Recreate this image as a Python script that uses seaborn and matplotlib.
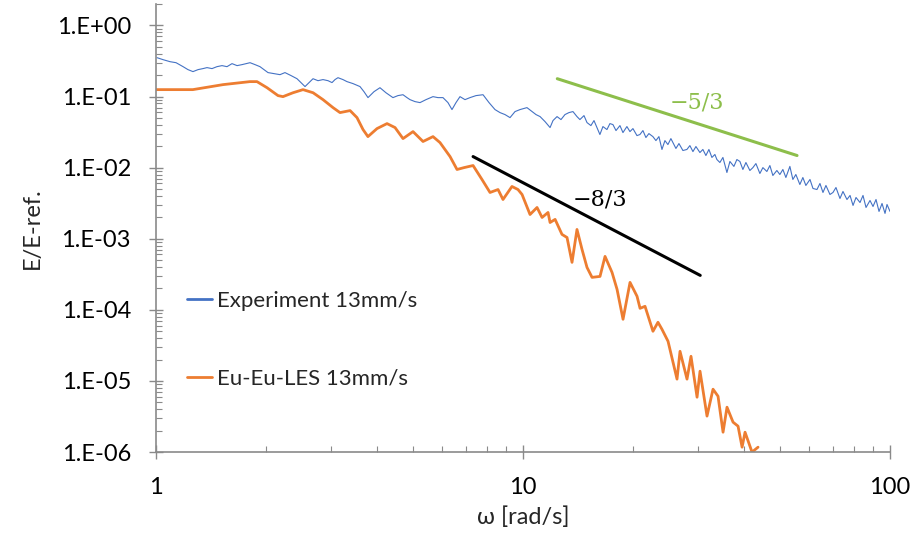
import numpy as np
import matplotlib
matplotlib.use("Agg")
import matplotlib.pyplot as plt
import seaborn as sns
from matplotlib.ticker import LogLocator, FuncFormatter, NullFormatter

# Experiment spectrum
blue_w = [1.006, 1.045, 1.092, 1.134, 1.185, 1.222, 1.261, 1.302, 1.343, 1.377,
          1.421, 1.466, 1.513, 1.561, 1.611, 1.663, 1.716, 1.759, 1.804, 1.861,
          1.920, 1.969, 2.019, 2.097, 2.177, 2.246, 2.333, 2.422, 2.484, 2.547,
          2.612, 2.678, 2.763, 2.851, 2.942, 3.017, 3.074, 3.132, 3.232, 3.314,
          3.441, 3.596, 3.687, 3.781, 3.926, 4.076, 4.232, 4.422, 4.563, 4.709,
          4.829, 4.921, 5.078, 5.240, 5.441, 5.684, 5.865, 6.052, 6.245, 6.404,
          6.567, 6.734, 6.949, 7.171, 7.446, 7.781, 8.079, 8.389, 8.656, 8.932,
          9.217, 9.511, 9.814,
          10.25, 10.58, 10.85, 11.13, 11.48, 11.85, 12.07, 12.38, 12.69, 13.01,
          13.34, 13.68, 14.03, 14.29, 14.66, 14.94, 15.31, 15.61, 15.90, 16.20,
          16.51, 16.93, 17.25, 17.58, 17.92, 18.37, 18.72, 19.19, 19.56, 19.93,
          20.44, 20.82, 21.22, 21.62, 22.03, 22.59, 23.02, 23.46, 23.91, 24.36,
          24.82, 25.29, 25.61, 26.10, 26.60, 27.27, 27.96, 28.49, 29.04, 29.59,
          30.34, 30.91, 31.50, 32.10, 32.71, 33.33, 33.75, 34.39, 35.05, 35.94,
          36.62, 37.55, 38.26, 38.99, 39.73, 40.49, 41.51, 42.30, 43.11, 44.20,
          45.04, 46.18, 47.06, 47.95, 49.17, 50.10, 51.06, 52.03, 53.35, 54.36,
          55.39, 56.80, 57.88, 58.98, 60.52, 61.67, 63.23, 64.43, 65.66, 66.90,
          68.60, 69.91, 71.24, 73.05, 74.44, 76.33, 77.81, 79.29, 80.79, 82.84,
          84.41, 86.02, 88.20, 89.88, 91.59, 93.33, 95.11, 96.91, 98.13, 100.0]
blue_e = [0.352, 0.330, 0.309, 0.299, 0.263, 0.239, 0.224, 0.239, 0.247, 0.255,
          0.247, 0.263, 0.272, 0.263, 0.290, 0.272, 0.281, 0.290, 0.299, 0.281,
          0.263, 0.239, 0.217, 0.210, 0.203, 0.217, 0.197, 0.178, 0.157, 0.138,
          0.157, 0.178, 0.167, 0.173, 0.167, 0.157, 0.173, 0.184, 0.173, 0.162,
          0.152, 0.138, 0.117, 0.0965, 0.117, 0.133, 0.113, 0.0965, 0.103, 0.106,
          0.0965, 0.0904, 0.0848, 0.0821, 0.0904, 0.0996, 0.0965, 0.0965, 0.0821, 0.0655,
          0.0821, 0.0996, 0.0904, 0.0965, 0.103, 0.106, 0.0821, 0.0655, 0.0594, 0.0557,
          0.0505, 0.0614, 0.0655,
          0.0698, 0.0614, 0.0557, 0.0522, 0.0444, 0.0366, 0.0459, 0.0522, 0.0474, 0.0557,
          0.0594, 0.0614, 0.0522, 0.0474, 0.0539, 0.0430, 0.0390, 0.0459, 0.0366, 0.0292,
          0.0378, 0.0343, 0.0416, 0.0403, 0.0332, 0.0390, 0.0311, 0.0378, 0.0321, 0.0354,
          0.0282, 0.0292, 0.0332, 0.0265, 0.0301, 0.0273, 0.0240, 0.0273, 0.0180, 0.0240,
          0.0211, 0.0256, 0.0225, 0.0186, 0.0218, 0.0174, 0.0180, 0.0204, 0.0168, 0.0198,
          0.0163, 0.0180, 0.0148, 0.0180, 0.0139, 0.0153, 0.0130, 0.0118, 0.0139, 0.00854,
          0.0122, 0.0104, 0.0130, 0.0122, 0.00941, 0.0118, 0.00911, 0.0100, 0.0114, 0.00827,
          0.0100, 0.00882, 0.0107, 0.00775, 0.00911, 0.0080, 0.00941, 0.00726, 0.0104, 0.00681,
          0.0080, 0.00579, 0.00726, 0.00561, 0.00681, 0.00509, 0.00492, 0.00598, 0.00447, 0.00561,
          0.00419, 0.00447, 0.00525, 0.00368, 0.00462, 0.00356, 0.00406, 0.00294, 0.0038, 0.00323,
          0.00406, 0.00275, 0.00345, 0.00284, 0.00356, 0.00242, 0.00313, 0.00227, 0.00303, 0.00242]

# Eu-Eu-LES spectrum
les_w = [1.0, 1.127, 1.26, 1.523, 1.803, 1.884, 2.007, 2.15, 2.218, 2.362,
         2.515, 2.679, 2.851, 3.036, 3.172, 3.379, 3.529, 3.665, 3.78, 4.001,
         4.26, 4.48, 4.71, 5.015, 5.34, 5.685, 5.94, 6.327, 6.61, 6.907,
         7.31, 7.73, 8.13, 8.55, 8.82, 9.33, 9.69, 9.94, 10.45, 10.92,
         11.27, 11.7, 11.85, 12.23, 12.77, 13.18, 13.6, 14.03, 14.48, 14.94,
         15.42, 16.21, 16.73, 17.48, 18.04, 18.73, 19.57, 20.45, 20.84, 21.5,
         22.6, 23.32, 23.91, 24.84, 26.28, 26.78, 27.98, 28.69, 29.8, 30.36,
         31.72, 32.94, 33.99, 35.08, 35.96, 37.35, 38.54, 39.53, 40.27, 42.07,
         43.69]
les_e = [0.125, 0.125, 0.125, 0.147, 0.162, 0.162, 0.133, 0.103, 0.0996, 0.113,
         0.125, 0.113, 0.0904, 0.0698, 0.0594, 0.0634, 0.0505, 0.0343, 0.0273, 0.0354,
         0.0416, 0.0366, 0.0256, 0.0321, 0.0233, 0.0273, 0.0225, 0.0143, 0.00941, 0.0100,
         0.0107, 0.00681, 0.00447, 0.00492, 0.00356, 0.00543, 0.00492, 0.00419, 0.00219, 0.00275,
         0.00199, 0.00234, 0.00169, 0.00187, 0.00115, 0.00104, 0.000465, 0.00135, 0.000708, 0.000395,
         0.000286, 0.000295, 0.000564, 0.000336, 0.000194, 7.36e-5, 0.000243, 0.000155, 0.000105, 0.000112,
         4.99e-5, 6.68e-5, 5.33e-5, 3.61e-5, 1.06e-5, 2.61e-5, 1.06e-5, 2.22e-5, 5.9e-6, 1.37e-5,
         3.2e-6, 7.65e-6, 6.09e-6, 1.9e-6, 4.27e-6, 2.63e-6, 2.31e-6, 1.17e-6, 1.9e-6, 9.97e-7,
         1.17e-6]

# slope guide lines (end points)
k53_w = [12.4, 55.8]
k53_e = [0.178, 0.0148]
k83_w = [7.31, 30.4]
k83_e = [0.0143, 0.000305]

sns.set_style("ticks")
plt.rcParams['font.family'] = ['Lato', 'DejaVu Sans']

fig = plt.figure(figsize=(9.15, 5.35), dpi=100)
ax = fig.add_axes([0.1705, 0.1551, 0.8022, 0.8374])

sns.lineplot(x=blue_w, y=blue_e, ax=ax, color="#4472C4", lw=0.8, sort=False,
             estimator=None, label="Experiment 13mm/s")
sns.lineplot(x=les_w, y=les_e, ax=ax, color="#ED7D31", lw=2.0, sort=False,
             estimator=None, label="Eu-Eu-LES 13mm/s")
sns.lineplot(x=k53_w, y=k53_e, ax=ax, color="#8DBE4B", lw=2.2, legend=False)
sns.lineplot(x=k83_w, y=k83_e, ax=ax, color="black", lw=2.2, legend=False)

ax.set(xscale="log", yscale="log")
ax.set_xlim(1, 100)
ax.set_ylim(1e-6, 2.0)

ax.text(29.8, 0.0821, "\u22125/3", color="#8DBE4B", fontsize=16,
        family="DejaVu Serif", ha="center", va="center")
ax.text(16.2, 0.00356, "\u22128/3", color="black", fontsize=16,
        family="DejaVu Serif", ha="center", va="center")

ax.set_yticks([1e-6, 1e-5, 1e-4, 1e-3, 1e-2, 1e-1, 1e0])
ax.yaxis.set_major_formatter(FuncFormatter(lambda v, p: f"1.E{int(round(np.log10(v))):+03d}"))
ax.yaxis.set_minor_locator(LogLocator(base=10, subs=np.arange(2, 10), numticks=20))
ax.yaxis.set_minor_formatter(NullFormatter())
ax.set_xticks([1, 10, 100])
ax.xaxis.set_major_formatter(FuncFormatter(lambda v, p: f"{v:g}"))
ax.xaxis.set_minor_locator(LogLocator(base=10, subs=np.arange(2, 10), numticks=20))
ax.xaxis.set_minor_formatter(NullFormatter())

grey = "#8a8a8a"
ax.tick_params(which="major", direction="inout", length=10, width=1.0,
               color=grey, labelsize=17, labelcolor="black", pad=13)
ax.tick_params(which="minor", direction="in", length=4.5, width=0.8, color=grey)

sns.despine(ax=ax)
for s in ["left", "bottom"]:
    ax.spines[s].set_color(grey)
    ax.spines[s].set_linewidth(1.2)

ax.set_xlabel("\u03c9 [rad/s]", fontsize=17, labelpad=6)
ax.set_ylabel("E/E-ref.", fontsize=17, labelpad=10)

leg = ax.legend(loc="upper left", bbox_to_anchor=(0.042, 0.36), frameon=False,
                fontsize=16, handlelength=1.15, handletextpad=0.2, labelspacing=2.6,
                borderpad=0, borderaxespad=0)
for h in leg.get_lines():
    h.set_linewidth(2.0)

fig.savefig("out.png", dpi=100)
